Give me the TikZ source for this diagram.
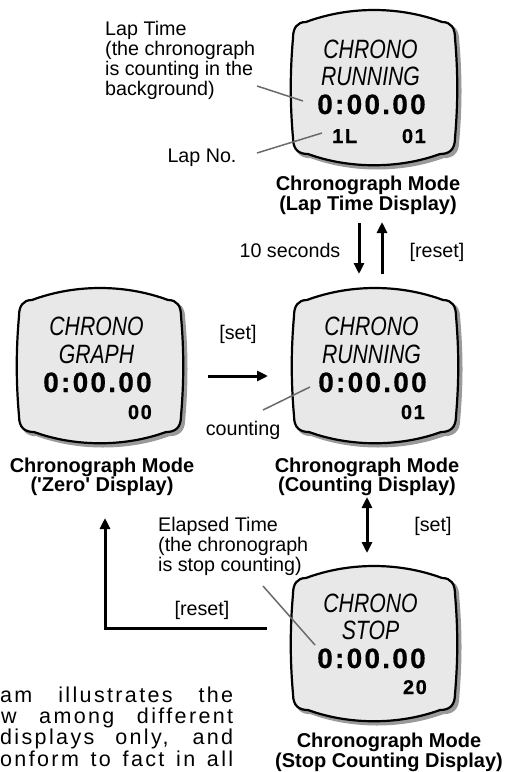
\documentclass[tikz,border=0pt]{standalone}
\usepackage{fontspec}
\setmainfont{Liberation Sans}[Ligatures=TeXOff]
\newfontfamily\lcdfont[FakeStretch=0.8]{Liberation Sans}
\newfontfamily\lcdbold[LetterSpace=8, FakeBold=0.6]{Liberation Sans Bold}
\newfontfamily\spacedfont[LetterSpace=11]{Liberation Sans}
\usetikzlibrary{arrows.meta}

\definecolor{screenfill}{HTML}{E8E8E8}
\definecolor{shadowgray}{HTML}{9A9A9A}
\definecolor{leadgray}{HTML}{6A6A6A}

\tikzset{
  lbl/.style={font=\fontsize{19.7bp}{20bp}\selectfont, inner sep=0, anchor=base},
  lblL/.style={lbl, anchor=base west},
  modelbl/.style={font=\fontsize{20bp}{20bp}\selectfont\bfseries, inner sep=0, anchor=base},
  screenbox/.style={minimum width=164bp, minimum height=156bp, inner sep=0},
  lcdtxt/.style={font=\lcdfont\itshape\fontsize{26.5bp}{26.5bp}\selectfont, inner sep=0, anchor=base},
  timetxt/.style={font=\lcdbold\fontsize{28bp}{28bp}\selectfont, inner sep=0, anchor=base},
  smalltxt/.style={font=\lcdbold\fontsize{20bp}{20bp}\selectfont, inner sep=0},
  leadline/.style={draw=leadgray, line width=1.5bp},
  thickarrow/.style={line width=3bp, -{Triangle[length=11bp,width=10bp]}},
  dblarrow/.style={line width=3bp, {Triangle[length=11bp,width=10bp]}-{Triangle[length=11bp,width=10bp]}},
  bodytxt/.style={font=\spacedfont\fontsize{21.5bp}{21.5bp}\selectfont, inner sep=0, anchor=base west},
}

\newcommand\tvshape[1]{%
  \path[#1] (-68,-66) .. controls (-25,-82) and (25,-82) .. (68,-66)
    .. controls (77,-66) and (81,-60) .. (81,-50)
    .. controls (84,-15) and (84,15) .. (81,50)
    .. controls (81,62) and (75,66) .. (66,66)
    .. controls (25,81) and (-25,81) .. (-66,66)
    .. controls (-75,66) and (-81,62) .. (-81,50)
    .. controls (-84,15) and (-84,-15) .. (-81,-50)
    .. controls (-81,-60) and (-77,-66) .. (-68,-66) -- cycle;}
\newcommand\tvscreen[1]{%
  \begin{scope}[shift={(#1.center)}]
    \tvshape{fill=shadowgray, draw=shadowgray, line width=2.5bp, shift={(3,3)}}
    \tvshape{fill=screenfill, draw=black, line width=2.2bp}
  \end{scope}}

\begin{document}
\begin{tikzpicture}[x=1bp, y=-1bp]
\useasboundingbox[fill=white] (0,0) rectangle (506,772);

% screens
\node[screenbox] (lap) at (374,88) {};
\node[screenbox] (zero) at (100,366) {};
\node[screenbox] (count) at (375,366) {};
\node[screenbox] (stop) at (374,644) {};
\tvscreen{lap}
\tvscreen{zero}
\tvscreen{count}
\tvscreen{stop}

% lap screen texts
\begin{scope}[shift={(lap.center)}]
  \node[lcdtxt] (lapA) at (-3.5,-29) {CHRONO};
  \node[lcdtxt] (lapB) at (-3.5,-3) {RUNNING};
  \node[timetxt] (lapT) at (-2.5,26) {0:00.00};
  \node[smalltxt, anchor=base west] (lapL) at (-42,55) {1L};
  \node[smalltxt, anchor=base east] (lapN) at (52,55) {01};
\end{scope}
% zero screen texts
\begin{scope}[shift={(zero.center)}]
  \node[lcdtxt] (zeroA) at (-3.5,-31) {CHRONO};
  \node[lcdtxt] (zeroB) at (-3.5,-3) {GRAPH};
  \node[timetxt] (zeroT) at (-2.5,26) {0:00.00};
  \node[smalltxt, anchor=base east] (zeroN) at (52,53) {00};
\end{scope}
% counting screen texts
\begin{scope}[shift={(count.center)}]
  \node[lcdtxt] (countA) at (-3.5,-31) {CHRONO};
  \node[lcdtxt] (countB) at (-3.5,-3) {RUNNING};
  \node[timetxt] (countT) at (-2.5,26) {0:00.00};
  \node[smalltxt, anchor=base east] (countN) at (50,53) {01};
\end{scope}
% stop screen texts
\begin{scope}[shift={(stop.center)}]
  \node[lcdtxt] (stopA) at (-3.5,-32) {CHRONO};
  \node[lcdtxt] (stopB) at (-3.5,-5) {STOP};
  \node[timetxt] (stopT) at (-2.5,24) {0:00.00};
  \node[smalltxt, anchor=base east] (stopN) at (53,50) {20};
\end{scope}

% annotations top
\node[lblL] (lt1) at (105,36) {Lap Time};
\node[lblL] (lt2) at (105,55.7) {(the chronograph};
\node[lblL] (lt3) at (105,75.4) {is counting in the};
\node[lblL] (lt4) at (105,95) {background)};
\node[lbl] (lapno) at (202,162) {Lap No.};
\coordinate (ltS) at (257,86);
\coordinate (ltE) at (303,101);
\coordinate (lnS) at (257,153);
\coordinate (lnE) at (322,133);
\draw[leadline] (ltS) -- (ltE);
\draw[leadline] (lnS) -- (lnE);

\node[modelbl] (lapm1) at (368,190) {Chronograph Mode};
\node[modelbl] (lapm2) at (368,210) {(Lap Time Display)};

% arrows lap <-> counting
\coordinate (d1) at (359,223);
\coordinate (d2) at (359,274);
\coordinate (u1) at (382,274);
\coordinate (u2) at (382,222);
\draw[thickarrow] (d1) -- (d2);
\draw[thickarrow] (u1) -- (u2);
\node[lbl] (tensec) at (290,257) {10 seconds};
\node[lbl] (reset1) at (437,257) {[reset]};

% zero -> counting
\coordinate (s1) at (208,376);
\coordinate (s2) at (268,376);
\draw[thickarrow] (s1) -- (s2);
\node[lbl] (set1) at (238,339) {[set]};
\node[lbl] (cnt) at (243,435) {counting};
\coordinate (cS) at (263,410);
\coordinate (cE) at (310,387);
\draw[leadline] (cS) -- (cE);

\node[modelbl] (zm1) at (102,472) {Chronograph Mode};
\node[modelbl] (zm2) at (102,491) {('Zero' Display)};
\node[modelbl] (cm1) at (367,472) {Chronograph Mode};
\node[modelbl] (cm2) at (367,491) {(Counting Display)};

% counting <-> stop
\coordinate (v1) at (367,497);
\coordinate (v2) at (367,553);
\draw[dblarrow] (v1) -- (v2);
\node[lbl] (set2) at (433,531) {[set]};

\node[lblL] (et1) at (158,531) {Elapsed Time};
\node[lblL] (et2) at (158,551) {(the chronograph};
\node[lblL] (et3) at (158,571) {is stop counting)};
\coordinate (eS) at (263,586);
\coordinate (eE) at (315,645);
\draw[leadline] (eS) -- (eE);

% reset L arrow
\coordinate (r1) at (267,628);
\coordinate (r2) at (105,628);
\coordinate (r3) at (105,518);
\draw[thickarrow] (r1) -- (r2) -- (r3);
\node[lbl] (reset2) at (202,615) {[reset]};

\node[modelbl] (sm1) at (389,747) {Chronograph Mode};
\node[modelbl] (sm2) at (389,767) {(Stop Counting Display)};

% cropped body text
\node[bodytxt] (b1) at (0,702) {\makebox[233bp][s]{am illustrates the}};
\node[bodytxt] (b2) at (1,723) {\makebox[232bp][s]{w among different}};
\node[bodytxt] (b3) at (0,744) {\makebox[233bp][s]{displays only, and}};
\node[bodytxt] (b4) at (0,766) {\makebox[233bp][s]{onform to fact in all}};
\end{tikzpicture}
\end{document}
